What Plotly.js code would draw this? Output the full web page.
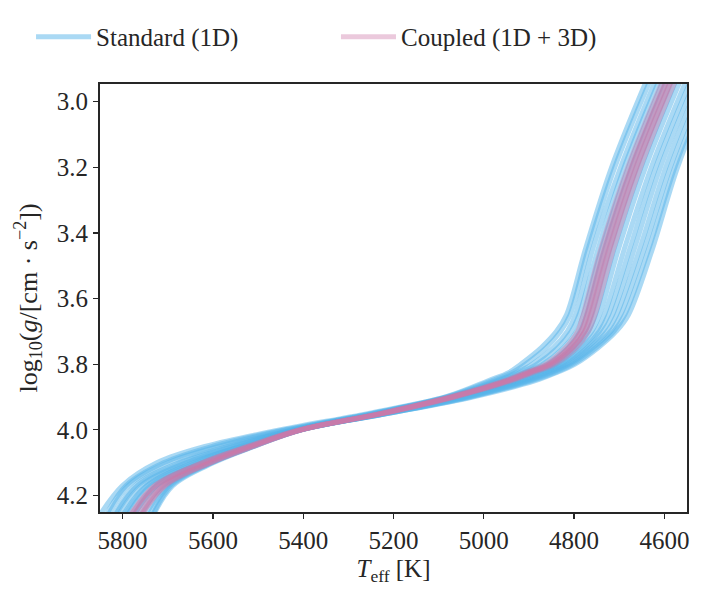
<!DOCTYPE html>
<html>
<head>
<meta charset="utf-8">
<script src="https://cdn.plot.ly/plotly-3.0.1.min.js"></script>
<style>html,body{margin:0;padding:0;background:#fff;}#chart{width:705px;height:601px;}</style>
</head>
<body>
<div id="chart"></div>
<script>
// log g levels (dex) at which each track's Teff was read
const loggLevels = [2.93, 3.2, 3.45, 3.65, 3.7, 3.75, 3.8, 3.825, 3.85, 3.9, 3.95, 4.0, 4.05, 4.1, 4.17, 4.27];

// Standard (1D) tracks: Teff [K] at each log g level
const standardTeff = [
  [4638, 4717, 4775, 4817, 4839, 4873, 4918, 4944, 4989, 5085, 5255, 5450, 5615, 5723, 5800, 5855],
  [4630, 4710, 4769, 4809, 4830, 4862, 4908, 4937, 4982, 5083, 5247, 5435, 5585, 5698, 5787, 5835],
  [4618, 4697, 4759, 4797, 4815, 4846, 4892, 4926, 4972, 5079, 5240, 5425, 5565, 5675, 5772, 5823],
  [4610, 4689, 4747, 4789, 4806, 4836, 4882, 4918, 4965, 5077, 5245, 5440, 5600, 5708, 5792, 5840],
  [4600, 4679, 4739, 4779, 4794, 4823, 4869, 4909, 4956, 5074, 5235, 5420, 5550, 5658, 5759, 5813],
  [4593, 4672, 4732, 4772, 4786, 4813, 4859, 4903, 4950, 5072, 5233, 5417, 5540, 5645, 5745, 5800],
  [4583, 4662, 4722, 4762, 4776, 4804, 4850, 4895, 4943, 5068, 5230, 5415, 5555, 5668, 5767, 5820],
  [4573, 4652, 4712, 4753, 4769, 4798, 4844, 4889, 4937, 5063, 5227, 5411, 5530, 5633, 5737, 5793],
  [4563, 4642, 4702, 4744, 4761, 4792, 4839, 4883, 4931, 5059, 5225, 5409, 5523, 5623, 5725, 5780],
  [4550, 4629, 4689, 4733, 4751, 4784, 4831, 4875, 4923, 5053, 5221, 5407, 5535, 5641, 5747, 5803],
  [4540, 4619, 4677, 4724, 4744, 4777, 4826, 4869, 4917, 5048, 5219, 5405, 5517, 5613, 5712, 5765],
  [4530, 4609, 4667, 4715, 4736, 4771, 4820, 4862, 4911, 5044, 5217, 5405, 5512, 5605, 5702, 5753],
  [4520, 4597, 4655, 4706, 4727, 4765, 4814, 4855, 4905, 5039, 5215, 5405, 5520, 5623, 5725, 5778],
  [4510, 4587, 4645, 4697, 4719, 4759, 4809, 4849, 4899, 5035, 5213, 5405, 5510, 5603, 5697, 5745],
  [4500, 4577, 4635, 4688, 4712, 4752, 4803, 4842, 4893, 5030, 5211, 5405, 5509, 5601, 5692, 5737],
  [4492, 4571, 4627, 4680, 4707, 4747, 4798, 4838, 4886, 5025, 5210, 5405, 5507, 5598, 5689, 5735]
];

// Coupled (1D + 3D) tracks: Teff [K] at each log g level
const coupledTeff = [
  [4602, 4681, 4741, 4780, 4792, 4819, 4863, 4907, 4954, 5076, 5229, 5408, 5521, 5623, 5729, 5788],
  [4594, 4673, 4733, 4772, 4785, 4812, 4857, 4901, 4949, 5072, 5226, 5405, 5516, 5615, 5721, 5780],
  [4592, 4671, 4730, 4770, 4783, 4810, 4855, 4899, 4947, 5071, 5225, 5404, 5510, 5605, 5707, 5764],
  [4582, 4661, 4721, 4761, 4775, 4802, 4849, 4895, 4943, 5068, 5224, 5405, 5512, 5608, 5711, 5768],
  [4574, 4653, 4713, 4754, 4768, 4795, 4843, 4889, 4938, 5064, 5221, 5403, 5509, 5604, 5705, 5762],
  [4584, 4663, 4723, 4764, 4777, 4804, 4851, 4897, 4945, 5069, 5225, 5406, 5520, 5621, 5727, 5786]
];

const xTickVals = [5800, 5600, 5400, 5200, 5000, 4800, 4600];
const yTickVals = [3.0, 3.2, 3.4, 3.6, 3.8, 4.0, 4.2];
const seriesNames = ['Standard (1D)', 'Coupled (1D + 3D)'];

const FONT = '"Liberation Serif", "Times New Roman", serif';
const INK = '#262626';
const BLUE = 'rgba(86,180,233,0.5)';
const PINK = 'rgba(204,121,167,0.4)';

const traces = [];
standardTeff.forEach((t, i) => {
  traces.push({
    x: t, y: loggLevels, type: 'scatter', mode: 'lines',
    line: {color: BLUE, width: 5, shape: 'spline', smoothing: 1},
    name: seriesNames[0], legend: 'legend', legendgroup: 'std', showlegend: i === 0,
    hoverinfo: 'skip'
  });
});
coupledTeff.forEach((t, i) => {
  traces.push({
    x: t, y: loggLevels, type: 'scatter', mode: 'lines',
    line: {color: PINK, width: 5, shape: 'spline', smoothing: 1},
    name: seriesNames[1], legend: 'legend2', legendgroup: 'cpl', showlegend: i === 0,
    hoverinfo: 'skip'
  });
});

const xRange = [5850, 4550];
const yRange = [4.2506, 2.946];
const legendBase = {
  orientation: 'h', xanchor: 'left', y: 1.11, yanchor: 'middle',
  font: {family: FONT, size: 25, color: INK},
  itemwidth: 55, bgcolor: 'rgba(0,0,0,0)'
};

const layout = {
  width: 705, height: 601,
  margin: {l: 100, r: 18, t: 84, b: 89},
  paper_bgcolor: '#ffffff', plot_bgcolor: '#ffffff',
  font: {family: FONT, size: 25, color: INK},
  showlegend: true,
  legend: Object.assign({}, legendBase, {x: -0.1175}),
  legend2: Object.assign({}, legendBase, {x: 0.402}),
  xaxis: {
    range: xRange, tickmode: 'array', tickvals: xTickVals,
    ticks: 'outside', ticklen: 5, tickwidth: 1.3, tickcolor: INK,
    showline: true, linewidth: 2, linecolor: INK, mirror: true,
    showgrid: false, zeroline: false,
    tickfont: {family: FONT, size: 25, color: INK},
    title: {text: '<i>T</i><sub>eff</sub> [K]', font: {family: FONT, size: 25, color: INK}, standoff: 6}
  },
  yaxis: {
    range: yRange, tickmode: 'array', tickvals: yTickVals, tickformat: '.1f',
    ticks: 'outside', ticklen: 5, tickwidth: 1.3, tickcolor: INK,
    showline: true, linewidth: 2, linecolor: INK, mirror: true,
    showgrid: false, zeroline: false,
    tickfont: {family: FONT, size: 25, color: INK},
    title: {text: 'log<sub>10</sub>(<i>g</i>/[cm · s<sup>−2</sup>])', font: {family: FONT, size: 26, color: INK}, standoff: 12}
  },
  xaxis2: {
    range: xRange, overlaying: 'x', tickmode: 'array', tickvals: xTickVals,
    ticks: 'inside', ticklen: 5, tickwidth: 1.3, tickcolor: INK,
    showticklabels: false, showline: false, showgrid: false, zeroline: false
  },
  yaxis2: {
    range: yRange, overlaying: 'y', tickmode: 'array', tickvals: yTickVals,
    ticks: 'inside', ticklen: 5, tickwidth: 1.3, tickcolor: INK,
    showticklabels: false, showline: false, showgrid: false, zeroline: false
  }
};

Plotly.newPlot('chart', traces, layout, {displayModeBar: false, staticPlot: true});
</script>
</body>
</html>
